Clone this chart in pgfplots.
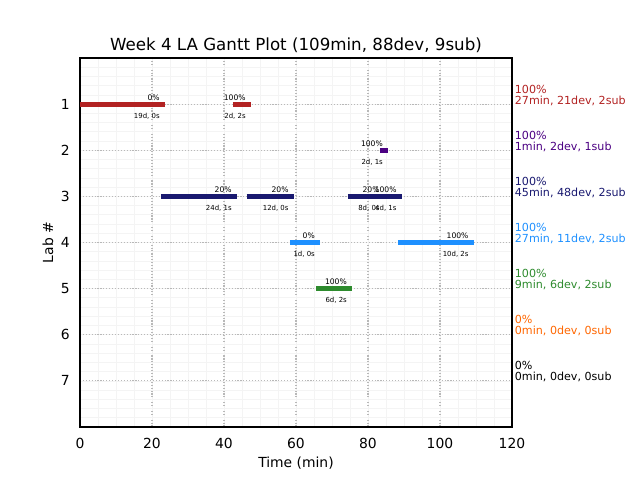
\documentclass[border=0pt]{standalone}
\usepackage{fontspec}
\setmainfont{DejaVu Sans}
\usepackage{pgfplots}
\pgfplotsset{compat=1.18}
\definecolor{cA}{HTML}{B22222}
\definecolor{cB}{HTML}{4B0082}
\definecolor{cC}{HTML}{191970}
\definecolor{cD}{HTML}{1E90FF}
\definecolor{cE}{HTML}{2E8B2E}
\definecolor{cF}{HTML}{FF6600}
\definecolor{gridmaj}{HTML}{B8B8B8}
\definecolor{gridmin}{HTML}{F4F4F4}
\newcommand{\toplab}{\fontsize{5.5}{6}\selectfont}
\newcommand{\botlab}{\fontsize{5}{6}\selectfont}
\newcommand{\sidefont}{\fontsize{8}{9}\selectfont}
\tikzset{
  gbar/.style={line width=3.6pt, line cap=butt, mark=none},
  pct/.style={pos=1, anchor=base east, inner sep=0pt, xshift=-2pt, yshift=2.9pt, font=\toplab, text=black},
  cnt/.style={pos=1, anchor=base east, inner sep=0pt, xshift=-2pt, yshift=-10.2pt, font=\botlab, text=black},
  sidea/.style={anchor=base west, inner sep=0pt, font=\sidefont, yshift=7.9pt},
  sideb/.style={anchor=base west, inner sep=0pt, font=\sidefont}
}
\begin{document}
\begin{tikzpicture}
\useasboundingbox (-57.6pt,-38.16pt) rectangle (403.2pt,307.44pt);
\begin{axis}[at={(0,0)}, anchor=south west, scale only axis,
  width=311pt, height=265.7pt,
  xmin=0, xmax=120, ymin=0, ymax=8, y dir=reverse,
  xtick={0,20,...,120}, ytick={1,...,7},
  minor xtick={0,5,...,120},
  minor ytick={0.2,0.4,...,7.9},
  grid=both,
  major grid style={gridmaj, line width=0.8pt, dash pattern=on 0.8pt off 1.3pt},
  minor grid style={gridmin, line width=0.5pt},
  major tick length=0pt, minor tick length=0pt,
  tick label style={font=\fontsize{10}{12}\selectfont},
  /pgf/number format/assume math mode=true,
  xticklabel style={yshift=-4.5pt},
  yticklabel style={xshift=-3.9pt},
  xlabel={Time (min)}, ylabel={Lab \#},
  label style={font=\fontsize{10}{12}\selectfont},
  xlabel style={at={(axis description cs:0.5,-0.111)}, anchor=base},
  ylabel style={at={(axis description cs:-0.062,0.5)}, anchor=base},
  title={Week 4 LA Gantt Plot (109min, 88dev, 9sub)},
  every axis title shift/.style={},
  title style={at={(axis description cs:0.5,0.998)}, anchor=base, font=\fontsize{12}{14}\selectfont},
  clip=false, axis line style={line width=0.8pt},
  no markers,
]
% Lab 1
\addplot[cA, gbar] coordinates {(0,1) (23.6,1)} node[pct]{0\%} node[cnt]{19d, 0s};
\addplot[cA, gbar] coordinates {(42.5,1) (47.5,1)} node[pct]{100\%} node[cnt]{2d, 2s};
% Lab 2
\addplot[cB, gbar] coordinates {(83.3,2) (85.6,2)} node[pct]{100\%} node[cnt]{2d, 1s};
% Lab 3
\addplot[cC, gbar] coordinates {(22.5,3) (43.6,3)} node[pct]{20\%} node[cnt]{24d, 1s};
\addplot[cC, gbar] coordinates {(46.3,3) (59.4,3)} node[pct]{20\%} node[cnt]{12d, 0s};
\addplot[cC, gbar] coordinates {(74.4,3) (84.7,3)} node[pct]{20\%} node[cnt]{8d, 0s};
\addplot[cC, gbar] coordinates {(84.7,3) (89.4,3)} node[pct]{100\%} node[cnt]{4d, 1s};
% Lab 4
\addplot[cD, gbar] coordinates {(58.3,4) (66.7,4)} node[pct]{0\%} node[cnt]{1d, 0s};
\addplot[cD, gbar] coordinates {(88.3,4) (109.4,4)} node[pct]{100\%} node[cnt]{10d, 2s};
% Lab 5
\addplot[cE, gbar] coordinates {(65.6,5) (75.6,5)} node[pct]{100\%} node[cnt]{6d, 2s};
% side annotations
\node[sidea, text=cA] at (axis cs:120.75,1) {100\%};
\node[sideb, text=cA] at (axis cs:120.75,1) {27min, 21dev, 2sub};
\node[sidea, text=cB] at (axis cs:120.75,2) {100\%};
\node[sideb, text=cB] at (axis cs:120.75,2) {1min, 2dev, 1sub};
\node[sidea, text=cC] at (axis cs:120.75,3) {100\%};
\node[sideb, text=cC] at (axis cs:120.75,3) {45min, 48dev, 2sub};
\node[sidea, text=cD] at (axis cs:120.75,4) {100\%};
\node[sideb, text=cD] at (axis cs:120.75,4) {27min, 11dev, 2sub};
\node[sidea, text=cE] at (axis cs:120.75,5) {100\%};
\node[sideb, text=cE] at (axis cs:120.75,5) {9min, 6dev, 2sub};
\node[sidea, text=cF] at (axis cs:120.75,6) {0\%};
\node[sideb, text=cF] at (axis cs:120.75,6) {0min, 0dev, 0sub};
\node[sidea, text=black] at (axis cs:120.75,7) {0\%};
\node[sideb, text=black] at (axis cs:120.75,7) {0min, 0dev, 0sub};
\end{axis}
\end{tikzpicture}
\end{document}
